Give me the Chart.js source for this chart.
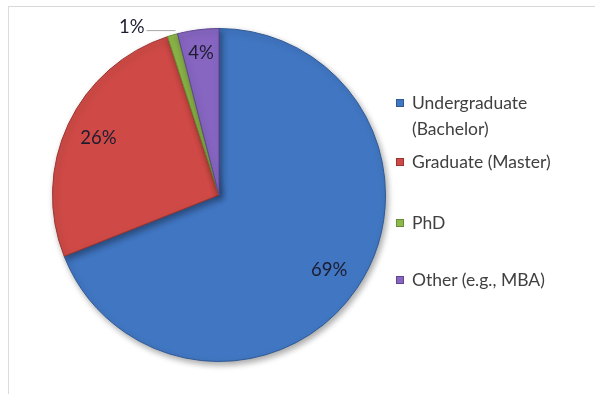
<!DOCTYPE html>
<html>
<head>
<meta charset="utf-8">
<script src="https://cdn.jsdelivr.net/npm/chart.js@4.4.1/dist/chart.umd.min.js"></script>
<style>
  html, body { margin: 0; padding: 0; background: #fff; }
  #wrap { position: relative; width: 595px; height: 394px; overflow: hidden; }
  /* light frame along the top and left edge */
  #frame {
    position: absolute; left: 8px; top: 6px; right: -2px; bottom: -2px;
    border-top: 1px solid #d9d9d9; border-left: 1px solid #dcdcdc;
  }
  #myChart { position: absolute; left: 0; top: 0; }
  #legend { position: absolute; left: 396px; top: 0; font-family: Lato, 'Open Sans', sans-serif;
    font-size: 17.5px; color: #404040; }
  .item { position: absolute; left: 0; white-space: nowrap; line-height: 26px; }
  .box { position: absolute; left: 0; top: 9px; width: 6px; height: 6px; }
  .txt { position: absolute; left: 16px; top: 0; }
</style>
</head>
<body>
<div id="wrap">
  <div id="frame"></div>
  <canvas id="myChart" width="595" height="394"></canvas>
  <div id="legend"></div>
</div>
<script>
// data for the pie
var labels = ['Undergraduate (Bachelor)', 'Graduate (Master)', 'PhD', 'Other (e.g., MBA)'];
var legendLines = [['Undergraduate', '(Bachelor)'], ['Graduate (Master)'], ['PhD'], ['Other (e.g., MBA)']];
var shares = [69, 26, 1, 4];
var colors = ['#4176c2', '#cf4a46', '#8db84a', '#8766c2'];
var edges = ['#2f5a96', '#9c3431', '#6a8c33', '#5f4690'];

// legend rows (top of each row in px)
var legendTops = [90, 149, 210, 267];
var legend = document.getElementById('legend');
legendLines.forEach(function (lines, i) {
    var item = document.createElement('div');
    item.className = 'item';
    item.style.top = legendTops[i] + 'px';
    item.innerHTML = '<span class="box" style="background:' + colors[i] + ';border:1px solid ' + edges[i] + '"></span>' +
        '<span class="txt">' + lines.join('<br>') + '</span>';
    legend.appendChild(item);
});

// drop shadow under the pie
const shadowPlugin = {
    id: 'pieShadow',
    beforeDatasetsDraw(chart) {
        const ctx = chart.ctx;
        ctx.save();
        ctx.shadowColor = 'rgba(0,0,0,0.35)';
        ctx.shadowBlur = 6;
        ctx.shadowOffsetX = 2;
        ctx.shadowOffsetY = 3;
    },
    afterDatasetsDraw(chart) {
        chart.ctx.restore();
    }
};

// percentage labels, small slices get a leader line outside
const pctPlugin = {
    id: 'pctLabels',
    afterDatasetsDraw(chart) {
        const ctx = chart.ctx;
        const meta = chart.getDatasetMeta(0);
        ctx.save();
        ctx.font = '18.5px Lato, "Open Sans", sans-serif';
        ctx.fillStyle = '#1c1c30';
        ctx.textBaseline = 'middle';
        meta.data.forEach(function (arc, i) {
            const v = shares[i];
            const mid = (arc.startAngle + arc.endAngle) / 2;
            const r = arc.outerRadius;
            if (v < 2) {
                const ex = arc.x + Math.cos(mid) * r;
                const ey = arc.y + Math.sin(mid) * r;
                const ly = ey - 5;
                ctx.strokeStyle = '#a6a6a6';
                ctx.lineWidth = 1;
                ctx.beginPath();
                ctx.moveTo(ex + 3, ly + 0.5);
                ctx.lineTo(ex - 26, ly + 0.5);
                ctx.stroke();
                ctx.textAlign = 'right';
                ctx.fillText(v + '%', ex - 28, ly - 3);
            } else {
                const f = v < 10 ? 0.86 : 0.8;
                ctx.textAlign = 'center';
                ctx.fillText(v + '%', arc.x + Math.cos(mid) * r * f, arc.y + Math.sin(mid) * r * f);
            }
        });
        ctx.restore();
    }
};

const data = {
    labels: labels,
    datasets: [{
        data: shares,
        backgroundColor: colors,
        borderColor: edges,
        borderWidth: 1
    }]
};

const config = {
    type: 'pie',
    data: data,
    options: {
        responsive: false,
        animation: false,
        layout: { padding: { top: 28, bottom: 32, left: 52, right: 209 } },
        plugins: {
            legend: { display: false },
            tooltip: { enabled: false }
        }
    },
    plugins: [shadowPlugin, pctPlugin]
};

const myChart = new Chart(document.getElementById('myChart'), config);
</script>
</body>
</html>
